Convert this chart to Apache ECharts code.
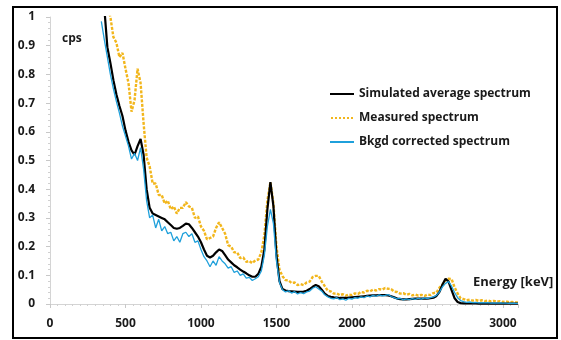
<!DOCTYPE html>
<html>
<head>
<meta charset="utf-8">
<script src="https://cdn.jsdelivr.net/npm/echarts@6/dist/echarts.min.js"></script>
<style>
  html, body { margin: 0; padding: 0; background: #fff; }
  #chart { width: 561px; height: 340px; }
</style>
</head>
<body>
<div id="chart"></div>
<script>
// Gamma spectrum: energy channels (keV)
const energy = [
  340, 360, 380, 400, 420, 440, 460, 480, 500, 520,
  540, 560, 580, 600, 620, 640, 660, 680, 700, 720,
  740, 760, 780, 800, 820, 840, 860, 880, 900, 920,
  940, 960, 980, 1000, 1020, 1040, 1060, 1080, 1100, 1120,
  1140, 1160, 1180, 1200, 1220, 1240, 1260, 1280, 1300, 1320,
  1340, 1360, 1380, 1400, 1420, 1440, 1460, 1480, 1500, 1520,
  1540, 1560, 1580, 1600, 1620, 1640, 1660, 1680, 1700, 1720,
  1740, 1760, 1780, 1800, 1820, 1840, 1860, 1880, 1900, 1920,
  1940, 1960, 1980, 2000, 2020, 2040, 2060, 2080, 2100, 2120,
  2140, 2160, 2180, 2200, 2220, 2240, 2260, 2280, 2300, 2320,
  2340, 2360, 2380, 2400, 2420, 2440, 2460, 2480, 2500, 2520,
  2540, 2560, 2580, 2600, 2620, 2640, 2660, 2680, 2700, 2720,
  2740, 2760, 2780, 2800, 2820, 2840, 2860, 2880, 2900, 2920,
  2940, 2960, 2980, 3000, 3020, 3040, 3060, 3080, 3100
];

// Simulated average spectrum (cps)
const simulated = [
  1.12, 1.03, 0.895, 0.84, 0.78, 0.73, 0.69, 0.655, 0.605, 0.565,
  0.535, 0.52, 0.55, 0.575, 0.52, 0.40, 0.335, 0.315, 0.31, 0.305,
  0.30, 0.295, 0.285, 0.275, 0.265, 0.262, 0.265, 0.272, 0.28, 0.278,
  0.265, 0.25, 0.235, 0.215, 0.19, 0.168, 0.162, 0.168, 0.18, 0.19,
  0.185, 0.17, 0.155, 0.145, 0.135, 0.128, 0.12, 0.113, 0.107, 0.1,
  0.095, 0.095, 0.105, 0.13, 0.19, 0.33, 0.425, 0.34, 0.17, 0.08,
  0.052, 0.047, 0.045, 0.044, 0.043, 0.042, 0.042, 0.043, 0.046, 0.052,
  0.06, 0.066, 0.062, 0.05, 0.036, 0.028, 0.025, 0.023, 0.022, 0.021,
  0.021, 0.021, 0.022, 0.023, 0.024, 0.025, 0.026, 0.027, 0.028, 0.029,
  0.03, 0.03, 0.031, 0.031, 0.031, 0.03, 0.027, 0.023, 0.019, 0.017,
  0.016, 0.016, 0.017, 0.018, 0.019, 0.019, 0.019, 0.019, 0.019, 0.02,
  0.022, 0.028, 0.042, 0.068, 0.088, 0.078, 0.048, 0.02, 0.007, 0.003,
  0.002, 0.002, 0.002, 0.002, 0.002, 0.001, 0.001, 0.001, 0.001, 0.001,
  0.001, 0.001, 0.001, 0.001, 0.001, 0.001, 0.001, 0.001, 0.001
];

// Measured spectrum (cps)
const measured = [
  1.15, 1.1, 1.04, 1.0, 0.93, 0.91, 0.86, 0.875, 0.82, 0.77,
  0.67, 0.71, 0.82, 0.77, 0.63, 0.51, 0.48, 0.42, 0.42, 0.38,
  0.38, 0.35, 0.36, 0.33, 0.34, 0.315, 0.335, 0.335, 0.355, 0.34,
  0.335, 0.30, 0.305, 0.27, 0.255, 0.225, 0.23, 0.235, 0.265, 0.285,
  0.265, 0.245, 0.205, 0.2, 0.18, 0.18, 0.16, 0.162, 0.147, 0.15,
  0.142, 0.152, 0.155, 0.18, 0.24, 0.36, 0.425, 0.35, 0.2, 0.12,
  0.097, 0.083, 0.082, 0.073, 0.075, 0.066, 0.069, 0.066, 0.075, 0.078,
  0.094, 0.098, 0.098, 0.078, 0.062, 0.046, 0.044, 0.036, 0.037, 0.031,
  0.034, 0.029, 0.033, 0.031, 0.037, 0.035, 0.042, 0.04, 0.046, 0.044,
  0.05, 0.047, 0.052, 0.05, 0.056, 0.053, 0.052, 0.043, 0.042, 0.036,
  0.038, 0.032, 0.035, 0.03, 0.033, 0.029, 0.032, 0.028, 0.033, 0.031,
  0.038, 0.04, 0.057, 0.068, 0.084, 0.088, 0.087, 0.058, 0.037, 0.02,
  0.017, 0.013, 0.015, 0.012, 0.014, 0.011, 0.013, 0.01, 0.012, 0.009,
  0.011, 0.008, 0.01, 0.007, 0.009, 0.006, 0.007, 0.005, 0.005
];

// Background-corrected spectrum (cps)
const corrected = [
  0.985, 0.92, 0.86, 0.80, 0.75, 0.705, 0.665, 0.62, 0.585, 0.55,
  0.505, 0.525, 0.50, 0.545, 0.47, 0.36, 0.30, 0.31, 0.265, 0.295,
  0.255, 0.27, 0.245, 0.25, 0.22, 0.235, 0.215, 0.245, 0.25, 0.235,
  0.245, 0.215, 0.22, 0.19, 0.165, 0.15, 0.13, 0.15, 0.135, 0.165,
  0.15, 0.14, 0.125, 0.13, 0.11, 0.115, 0.1, 0.105, 0.09, 0.093,
  0.082, 0.088, 0.095, 0.115, 0.17, 0.27, 0.33, 0.28, 0.15, 0.075,
  0.05, 0.042, 0.046, 0.038, 0.043, 0.035, 0.04, 0.036, 0.042, 0.045,
  0.055, 0.06, 0.052, 0.045, 0.032, 0.025, 0.02, 0.018, 0.022, 0.015,
  0.018, 0.013, 0.02, 0.017, 0.022, 0.02, 0.025, 0.022, 0.028, 0.025,
  0.03, 0.027, 0.032, 0.028, 0.03, 0.033, 0.026, 0.022, 0.018, 0.02,
  0.014, 0.018, 0.015, 0.019, 0.016, 0.02, 0.017, 0.021, 0.019, 0.022,
  0.025, 0.03, 0.042, 0.06, 0.072, 0.078, 0.062, 0.04, 0.022, 0.012,
  0.008, 0.006, 0.007, 0.005, 0.006, 0.004, 0.005, 0.004, 0.005, 0.003,
  0.004, 0.003, 0.004, 0.003, 0.003, 0.002, 0.003, 0.002, 0.002
];

const seriesNames = ['Simulated average spectrum', 'Measured spectrum', 'Bkgd corrected spectrum'];
const yAxisTitle = 'cps';
const xAxisTitle = 'Energy [keV]';

const FONT = '"Open Sans", "Liberation Sans", sans-serif';
const pairs = (vals) => energy.map((e, i) => [e, vals[i]]);

// Legend keys: a solid bar and a row of dots
const solidKey = 'path://M0,0H24V2H0Z';
const dottedKey = 'path://M0,0H2V2H0Z M4,0H6V2H4Z M8,0H10V2H8Z M12,0H14V2H12Z M16,0H18V2H16Z M20,0H22V2H20Z';

const axisCommon = {
  axisLine: { show: true, lineStyle: { color: '#d4d4d4', width: 1 } },
  axisTick: { show: true, length: 4, lineStyle: { color: '#c8c8c8' } },
  minorTick: { show: true, length: 2, lineStyle: { color: '#d0d0d0' } },
  splitLine: { show: false },
  axisLabel: { color: '#1a1a1a', fontFamily: FONT, fontWeight: 'bold', fontSize: 12 }
};

const chart = echarts.init(document.getElementById('chart'), null, { renderer: 'canvas' });
chart.setOption({
  animation: false,
  backgroundColor: '#fff',
  grid: { left: 50, right: 43, top: 17, bottom: 36 },
  xAxis: Object.assign({}, axisCommon, {
    type: 'value', min: 0, max: 3100, interval: 500,
    minorTick: Object.assign({}, axisCommon.minorTick, { splitNumber: 10 }),
    axisLabel: Object.assign({}, axisCommon.axisLabel, {
      margin: 14, showMaxLabel: false,
      formatter: (v) => (v % 500 === 0 ? String(v) : '')
    })
  }),
  yAxis: Object.assign({}, axisCommon, {
    type: 'value', min: 0, max: 1, interval: 0.1,
    minorTick: Object.assign({}, axisCommon.minorTick, { splitNumber: 5 }),
    axisLabel: Object.assign({}, axisCommon.axisLabel, { margin: 15 })
  }),
  legend: {
    orient: 'vertical', left: 325, top: 83, itemGap: 12,
    itemWidth: 24, itemHeight: 2,
    textStyle: { fontFamily: FONT, fontWeight: 'bold', fontSize: 12, color: '#1a1a1a' },
    data: [
      { name: seriesNames[0], icon: solidKey },
      { name: seriesNames[1], icon: dottedKey },
      { name: seriesNames[2], icon: solidKey }
    ]
  },
  series: [
    { name: seriesNames[0], type: 'line', data: pairs(simulated), showSymbol: false, symbol: 'none',
      lineStyle: { color: '#000', width: 2.2 }, itemStyle: { color: '#000' }, z: 3 },
    { name: seriesNames[1], type: 'line', data: pairs(measured), showSymbol: false, symbol: 'none',
      lineStyle: { color: '#f2b61c', width: 2.4, type: [3, 1.5] }, itemStyle: { color: '#f2b61c' }, z: 2 },
    { name: seriesNames[2], type: 'line', data: pairs(corrected), showSymbol: false, symbol: 'none',
      lineStyle: { color: '#1fa0db', width: 1.3 }, itemStyle: { color: '#1fa0db' }, z: 4 }
  ],
  graphic: [
    { type: 'rect', shape: { x: 13, y: 7, width: 544, height: 331 },
      style: { fill: 'none', stroke: '#000', lineWidth: 2 }, z: 10 },
    { type: 'text', left: 62, top: 33,
      style: { text: yAxisTitle, fill: '#1a1a1a', font: 'bold 12px ' + FONT } },
    { type: 'text', left: 473, top: 276,
      style: { text: xAxisTitle, fill: '#1a1a1a', font: 'bold 13px ' + FONT } }
  ]
});
</script>
</body>
</html>
